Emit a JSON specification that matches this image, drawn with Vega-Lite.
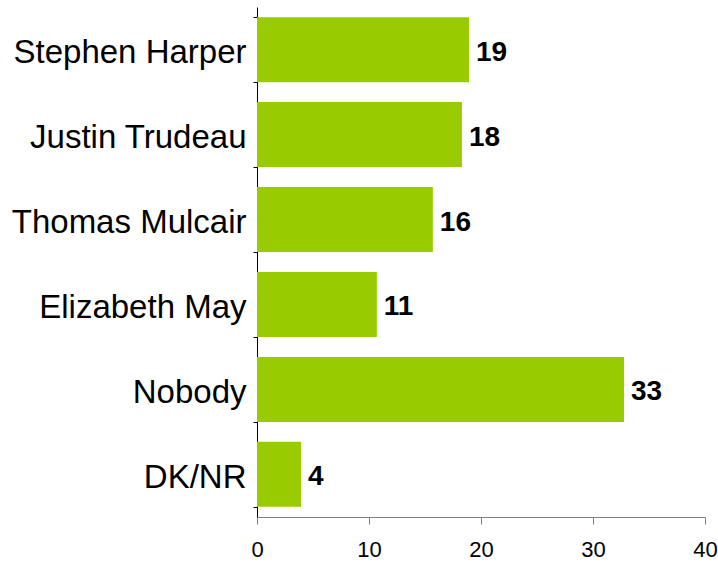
{
  "$schema": "https://vega.github.io/schema/vega-lite/v6.json",
  "width": 448,
  "height": 510,
  "autosize": {"type": "none"},
  "padding": {"left": 257, "top": 7, "right": 13, "bottom": 47},
  "background": "white",
  "config": {"view": {"stroke": null}, "font": "Liberation Sans"},
  "data": {
    "values": [
      {"name": "Stephen Harper", "value": 18.93},
      {"name": "Justin Trudeau", "value": 18.3},
      {"name": "Thomas Mulcair", "value": 15.7},
      {"name": "Elizabeth May", "value": 10.7},
      {"name": "Nobody", "value": 32.77},
      {"name": "DK/NR", "value": 3.93}
    ]
  },
  "encoding": {
    "y": {
      "field": "name",
      "type": "nominal",
      "sort": null,
      "title": null,
      "scale": {"paddingInner": 0.235, "paddingOuter": 0.12},
      "axis": {
        "tickBand": "extent",
        "tickSize": 4,
        "labelPadding": 7,
        "labelOffset": 3,
        "labelFontSize": 33,
        "labelColor": "#000000",
        "labelFont": "Liberation Sans",
        "domainColor": "#000000",
        "tickColor": "#000000",
        "labelLimit": 300
      }
    },
    "x": {
      "field": "value",
      "type": "quantitative",
      "title": null,
      "scale": {"domain": [0, 40], "nice": false},
      "axis": {
        "values": [0, 10, 20, 30, 40],
        "grid": false,
        "tickSize": 7,
        "labelPadding": 15,
        "labelFontSize": 22,
        "labelColor": "#000000",
        "labelFont": "Liberation Sans",
        "domainColor": "#808080",
        "tickColor": "#808080",
        "labelFlush": false
      }
    }
  },
  "layer": [
    {"mark": {"type": "bar", "color": "#99CC00"}},
    {
      "mark": {"type": "text", "align": "left", "baseline": "middle", "dx": 7, "dy": 3, "fontSize": 28, "fontWeight": "bold", "font": "Liberation Sans", "color": "#000000"},
      "encoding": {"text": {"field": "value", "type": "quantitative", "format": ".0f"}}
    }
  ]
}
